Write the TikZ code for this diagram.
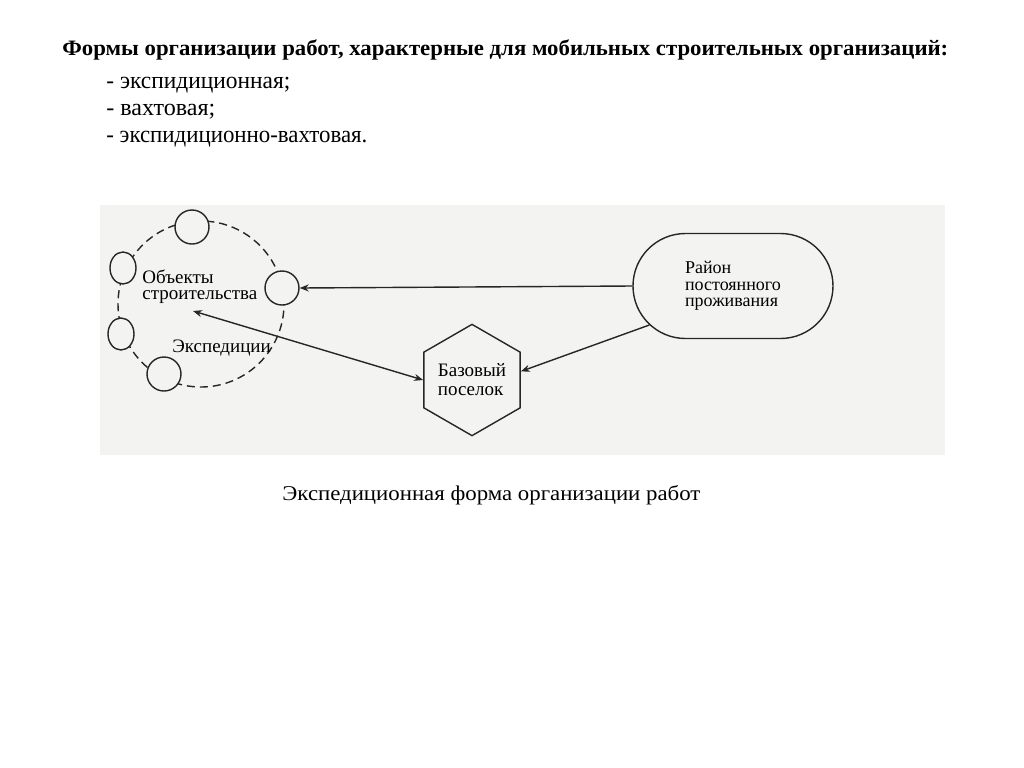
\documentclass[tikz,border=0pt]{standalone}
\usepackage{fontspec}
\setmainfont{Liberation Serif}
\usepackage{graphicx}
\usetikzlibrary{shapes.geometric,shapes.misc,arrows.meta}
\definecolor{scanbg}{RGB}{243,243,241}
\begin{document}
\begin{tikzpicture}[x=0.5pt,y=-0.5pt,
  ink/.style={draw=black!85, line width=0.7pt},
  lbl/.style={font=\fontsize{9}{7.5}\selectfont, inner sep=0pt, align=left, text=black},
  obj/.style={ink, circle, fill=scanbg, minimum size=17pt, inner sep=0pt},
  objv/.style={ink, ellipse, fill=scanbg, minimum width=13pt, minimum height=16pt, inner sep=0pt},
  arr/.style={ink, -{Stealth[length=4.5pt,width=3.5pt]}},
  dblarr/.style={ink, {Stealth[length=4.5pt,width=3.5pt]}-{Stealth[length=4.5pt,width=3.5pt]}},
  txt/.style={anchor=base west, inner sep=0pt, text=black}
]
\useasboundingbox (0,0) rectangle (1024,767);
\fill[white] (0,0) rectangle (1024,767);
% heading
\node[txt, font=\bfseries\fontsize{11}{13}\selectfont] (title) at (62,55)
  {\resizebox{443pt}{\height}{Формы организации работ, характерные для мобильных строительных организаций:}};
\node[txt, font=\fontsize{12}{14}\selectfont] (item1) at (106,88) {\resizebox{92pt}{\height}{- экспидиционная;}};
\node[txt, font=\fontsize{12}{14}\selectfont] (item2) at (106,115) {\resizebox{54.5pt}{\height}{- вахтовая;}};
\node[txt, font=\fontsize{12}{14}\selectfont] (item3) at (106,142) {\resizebox{130.5pt}{\height}{- экспидиционно-вахтовая.}};
% scanned figure area
\fill[scanbg] (100,205) rectangle (945,455);
% ring of objects
\node[ink, circle, dashed, dash pattern=on 4pt off 2.5pt, minimum size=83pt, inner sep=0pt] (ring) at (201,304) {};
\node[obj] (c1) at (192,227) {};
\node[objv] (c2) at (123,268) {};
\node[obj] (c3) at (282,288) {};
\node[objv] (c4) at (121,334) {};
\node[obj] (c5) at (164,374) {};
\node[lbl, font=\fontsize{9.5}{8.2}\selectfont, anchor=west] (objtxt) at (142,287) {Объекты\\строительства};
\node[lbl, font=\fontsize{9.5}{8.2}\selectfont, anchor=base west] (exptxt) at (172,352) {Экспедиции};
\coordinate (objtip) at (193,311);
% home region
\node[ink, lbl, font=\fontsize{9}{8.3}\selectfont, rounded rectangle, minimum width=100pt, minimum height=52.5pt] (home) at (733,286)
  {Район\\постоянного\\проживания};
% base settlement
\node[ink, lbl, font=\fontsize{9.5}{9.5}\selectfont, regular polygon, regular polygon sides=6, shape border rotate=30, minimum size=50pt] (base) at (472,380)
  {Базовый\\поселок};
% connectors
\draw[arr] (home.west) -- (c3.east);
\draw[arr] (home.205) -- (base.10);
\draw[dblarr] (objtip) -- (base.180);
% caption
\node[txt, font=\fontsize{10.5}{12}\selectfont] (caption) at (282,500)
  {\resizebox{209pt}{\height}{Экспедиционная форма организации работ}};
\end{tikzpicture}
\end{document}
